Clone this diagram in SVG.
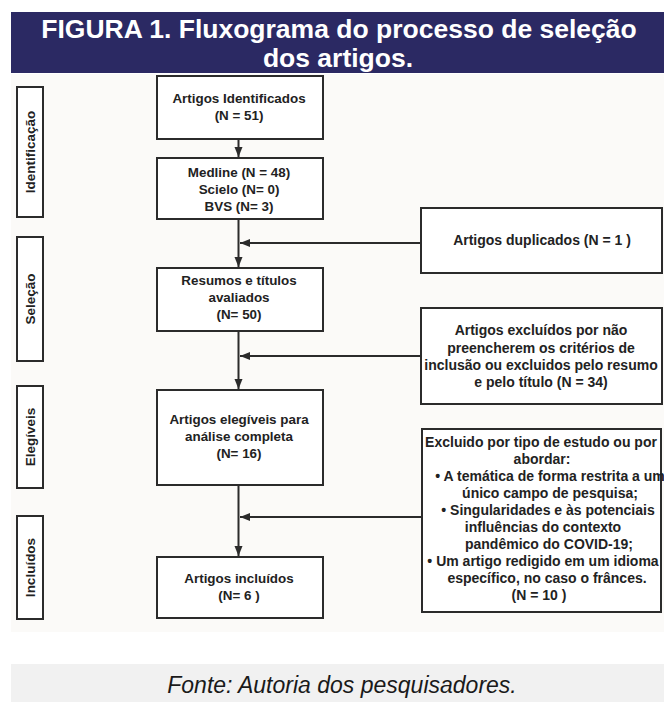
<svg xmlns="http://www.w3.org/2000/svg" width="664" height="702" viewBox="0 0 664 702">
<style>
.box{fill:#ffffff;stroke:#2b2b2b;stroke-width:2}
.t{font-family:"Liberation Sans",Arial,sans-serif;font-weight:bold;font-size:13.4px;fill:#222;text-anchor:middle}
.tr{font-size:14px}
.lab{font-family:"Liberation Sans",Arial,sans-serif;font-weight:bold;font-size:13.5px;fill:#222;text-anchor:middle}
.con{fill:none;stroke:#2b2b2b;stroke-width:2}
.title{font-family:"Liberation Sans",Arial,sans-serif;font-weight:bold;font-size:26.5px;fill:#ffffff;text-anchor:middle}
.foot{font-family:"Liberation Sans",Arial,sans-serif;font-style:italic;font-size:23px;fill:#1a1a1a;text-anchor:middle}
</style>
<defs>
<marker id="ah" markerUnits="userSpaceOnUse" markerWidth="10" markerHeight="10" viewBox="0 0 10 10" refX="10" refY="5" orient="auto">
<path d="M0,1 L10,5 L0,9 Z" fill="#2b2b2b"/>
</marker>
</defs>
<rect x="0" y="0" width="664" height="702" fill="#ffffff"/>
<rect x="11" y="74" width="653" height="558" fill="#fbfaf8"/>
<g id="banner">
<rect x="11" y="12" width="653" height="61" fill="#2b2963"/>
<text class="title" x="339" y="38">FIGURA 1. Fluxograma do processo de seleção</text>
<text class="title" x="338" y="67">dos artigos.</text>
</g>
<g id="lab-identificacao">
<rect class="box" x="17" y="87" width="26" height="130"/>
<text class="lab" transform="translate(35,152) rotate(-90)">Identificação</text>
</g>
<g id="lab-selecao">
<rect class="box" x="17" y="237" width="26" height="124"/>
<text class="lab" transform="translate(35,299) rotate(-90)">Seleção</text>
</g>
<g id="lab-elegiveis">
<rect class="box" x="17" y="386" width="26" height="102"/>
<text class="lab" transform="translate(35,437) rotate(-90)">Elegíveis</text>
</g>
<g id="lab-incluidos">
<rect class="box" x="17" y="516" width="26" height="103"/>
<text class="lab" transform="translate(35,567.5) rotate(-90)">Incluídos</text>
</g>
<g id="connectors">
<path class="con" d="M238.5,139 V157" marker-end="url(#ah)"/>
<path class="con" d="M238.5,219 V267" marker-end="url(#ah)"/>
<path class="con" d="M421,243 H240" marker-end="url(#ah)"/>
<path class="con" d="M238.5,331 V389" marker-end="url(#ah)"/>
<path class="con" d="M421,356 H240" marker-end="url(#ah)"/>
<path class="con" d="M238.5,485 V556" marker-end="url(#ah)"/>
<path class="con" d="M422,517 H240" marker-end="url(#ah)"/>
</g>
<g id="identificados">
<rect class="box" x="157" y="76" width="166" height="63"/>
<text class="t" x="239" y="103">Artigos Identificados</text>
<text class="t" x="239" y="120">(N = 51)</text>
</g>
<g id="bases">
<rect class="box" x="157" y="158" width="166" height="61"/>
<text class="t" x="239" y="177">Medline (N = 48)</text>
<text class="t" x="239" y="194">Scielo (N= 0)</text>
<text class="t" x="239" y="211">BVS (N= 3)</text>
</g>
<g id="resumos">
<rect class="box" x="157" y="268" width="166" height="63"/>
<text class="t" x="239" y="285">Resumos e títulos</text>
<text class="t" x="239" y="302">avaliados</text>
<text class="t" x="239" y="319">(N= 50)</text>
</g>
<g id="elegiveis">
<rect class="box" x="157" y="390" width="166" height="95"/>
<text class="t" x="239" y="424">Artigos elegíveis para</text>
<text class="t" x="239" y="441">análise completa</text>
<text class="t" x="239" y="458">(N= 16)</text>
</g>
<g id="incluidos">
<rect class="box" x="157" y="557" width="166" height="61"/>
<text class="t" x="239" y="583">Artigos incluídos</text>
<text class="t" x="239" y="600">(N= 6 )</text>
</g>
<g id="duplicados">
<rect class="box" x="421" y="208" width="241" height="65"/>
<text class="t tr" x="542" y="245">Artigos duplicados (N = 1 )</text>
</g>
<g id="excluidos-criterios">
<rect class="box" x="421" y="308" width="241" height="96"/>
<text class="t tr" x="541" y="335">Artigos excluídos por não</text>
<text class="t tr" x="541" y="353">preencherem os critérios de</text>
<text class="t tr" x="541" y="370">inclusão ou excluidos pelo resumo</text>
<text class="t tr" x="541" y="387">e pelo título (N = 34)</text>
</g>
<g id="excluidos-tipo">
<rect class="box" x="422" y="429" width="239" height="183"/>
<text class="t tr" x="541" y="447">Excluido por tipo de estudo ou por</text>
<text class="t tr" x="542" y="464">abordar:</text>
<text class="t tr" x="550" y="481">• A temática de forma restrita a um</text>
<text class="t tr" x="550" y="498">único campo de pesquisa;</text>
<text class="t tr" x="548" y="515">• Singularidades e às potenciais</text>
<text class="t tr" x="543" y="532">influências do contexto</text>
<text class="t tr" x="549" y="549">pandêmico do COVID-19;</text>
<text class="t tr" x="543" y="566">• Um artigo redigido em um idioma</text>
<text class="t tr" x="547" y="583">específico, no caso o frânces.</text>
<text class="t tr" x="539" y="600">(N = 10 )</text>
</g>
<g id="fonte">
<rect x="11" y="664" width="653" height="38" fill="#f1f1f1"/>
<text class="foot" x="342" y="693">Fonte: Autoria dos pesquisadores.</text>
</g>
</svg>
